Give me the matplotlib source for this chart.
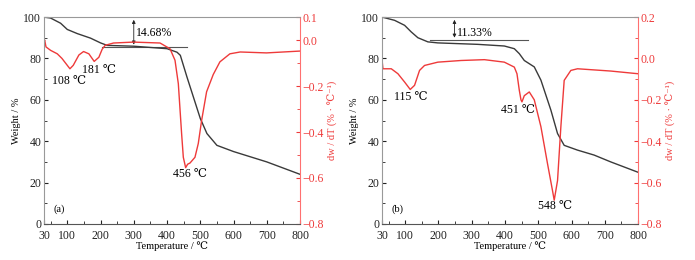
import matplotlib
matplotlib.use("Agg")
import matplotlib.pyplot as plt
from matplotlib.ticker import MultipleLocator, FixedLocator

plt.rcParams['font.family'] = ['Liberation Serif', 'DejaVu Serif', 'Noto Sans CJK SC']
plt.rcParams['axes.unicode_minus'] = True

# Panel (a) TG
tg_a_T = [30, 50, 80, 100, 130, 170, 200, 220, 300, 400, 430, 440, 460, 480, 500, 520, 550, 600, 700, 800]
tg_a_w = [100, 99.5, 97.0, 94.0, 92.0, 89.8, 87.5, 86.3, 85.9, 84.7, 83.0, 81.5, 71.0, 61.0, 51.0, 43.7, 38.0, 35.0, 30.0, 24.0]
# Panel (a) DTG
dtg_a_T = [30, 32, 36, 50, 70, 84, 100, 108, 118, 135, 149, 165, 181, 195, 205, 214, 239, 299, 379, 409, 424, 434,
           444, 449, 456, 462, 469, 484, 494, 504, 519, 539, 559, 589, 620, 699, 800]
dtg_a_v = [-0.01, 0.0, -0.03, -0.045, -0.06, -0.08, -0.11, -0.125, -0.11, -0.065, -0.05, -0.06, -0.093, -0.075, -0.04,
           -0.023, -0.013, -0.009, -0.013, -0.038, -0.088, -0.19, -0.41, -0.51, -0.555, -0.54, -0.535, -0.51, -0.45,
           -0.35, -0.225, -0.15, -0.095, -0.06, -0.052, -0.056, -0.048]

# Panel (b) TG
tg_b_T = [30, 68, 98, 118, 138, 168, 198, 318, 398, 428, 443, 458, 488, 508, 538, 558, 578, 618, 668, 718, 800]
tg_b_w = [100, 98.4, 96.0, 92.8, 90.0, 88.0, 87.5, 86.8, 86.0, 84.7, 82.3, 79.0, 75.9, 69.5, 55.0, 43.7, 38.0, 35.7, 33.3, 30.0, 25.0]
# Panel (b) DTG
dtg_b_T = [30, 31, 33, 58, 78, 98, 115, 128, 143, 158, 198, 268, 338, 398, 428, 436, 443, 448, 451, 458, 473,
           488, 508, 528, 543, 548, 558, 568, 578, 598, 618, 718, 800]
dtg_b_v = [-0.22, -0.02, -0.05, -0.05, -0.074, -0.114, -0.15, -0.13, -0.058, -0.034, -0.018, -0.01, -0.006, -0.018,
           -0.042, -0.074, -0.154, -0.2, -0.21, -0.18, -0.162, -0.2, -0.33, -0.51, -0.64, -0.685, -0.59, -0.33,
           -0.106, -0.058, -0.05, -0.061, -0.074]

# peak labels: (peak temperature, label centre T, label top value)
peaks_a = [(108, 105, -0.15), (181, 194, -0.105), (456, 468, -0.555)]
peaks_b = [(115, 118, -0.155), (451, 440, -0.22), (548, 549, -0.685)]

panels = [
    dict(tgT=tg_a_T, tgw=tg_a_w, dT=dtg_a_T, dv=dtg_a_v, rtop=0.1, rticks=[0.1, 0.0, -0.2, -0.4, -0.6, -0.8],
         loss=14.68, lineT=(203, 459), arrowT=300, tag='(a)', peaks=peaks_a, left=0.0633),
    dict(tgT=tg_b_T, tgw=tg_b_w, dT=dtg_b_T, dv=dtg_b_v, rtop=0.2, rticks=[0.2, 0.0, -0.2, -0.4, -0.6, -0.8],
         loss=11.33, lineT=(174, 469), arrowT=248, tag='(b)', peaks=peaks_b, left=0.5496),
]

fig = plt.figure(figsize=(6.95, 2.6), dpi=100)
red = '#ee3a3a'
fs = 7.5
tfs = 8.5
for p in panels:
    ax = fig.add_axes([p['left'], 0.1385, 0.3684, 0.796])
    ax2 = ax.twinx()
    ax.plot(p['tgT'], p['tgw'], color='#3a3a3a', lw=1.0, zorder=3)
    ax2.plot(p['dT'], p['dv'], color=red, lw=1.0)
    ax.set_xlim(30, 800)
    ax.set_ylim(0, 100)
    ax2.set_ylim(-0.8, p['rtop'])
    ax.xaxis.set_major_locator(FixedLocator([30, 100, 200, 300, 400, 500, 600, 700, 800]))
    ax.xaxis.set_minor_locator(FixedLocator([50, 150, 250, 350, 450, 550, 650, 750]))
    ax.yaxis.set_major_locator(MultipleLocator(20))
    ax.yaxis.set_minor_locator(MultipleLocator(10))
    ax2.yaxis.set_major_locator(FixedLocator(p['rticks']))
    ax2.yaxis.set_minor_locator(MultipleLocator(0.1))
    ax2.set_yticklabels(['%.1f' % v if v >= 0 else '\u2212%.1f' % -v for v in p['rticks']])
    ax.tick_params(which='both', direction='in', labelsize=tfs, colors='#222222')
    ax.tick_params(axis='x', pad=4)
    ax.tick_params(axis='y', pad=2)
    ax.tick_params(which='major', length=3)
    ax.tick_params(which='minor', length=2)
    ax2.tick_params(which='both', direction='in', labelsize=tfs, pad=2, colors=red)
    ax2.tick_params(which='major', length=3)
    ax2.tick_params(which='minor', length=2)
    for s in ['left', 'top']:
        ax2.spines[s].set_color('#999999')
    ax2.spines['bottom'].set_color('#555555')
    ax2.spines['right'].set_color('#ff7070')
    for s in ax.spines.values():
        s.set_visible(False)
    ax.set_xlabel('Temperature / \u2103', fontsize=fs, labelpad=0)
    ax.set_ylabel('Weight / %', fontsize=fs, labelpad=2)
    ax2.set_ylabel('dw / dT (% \u00b7 \u2103\u207b\u00b9)', fontsize=fs, color=red, labelpad=3)
    lvl = 100 - p['loss']
    ax.plot(p['lineT'], [lvl, lvl], color='#555555', lw=0.8, zorder=2)
    ax.annotate('', xy=(p['arrowT'], lvl), xytext=(p['arrowT'], 100),
                arrowprops=dict(arrowstyle='<|-|>', color='#222222', lw=0.6, mutation_scale=5))
    ax.text(p['arrowT'] + 6, 92.5, '%.2f%%' % p['loss'], fontsize=tfs, ha='left', va='center')
    ax.text(60, 7, p['tag'], fontsize=fs, ha='left', va='center')
    for T, lx, ly in p['peaks']:
        ax2.text(lx, ly, '%d \u2103' % T, fontsize=tfs, ha='center', va='top')

fig.savefig('out.png', dpi=100)
